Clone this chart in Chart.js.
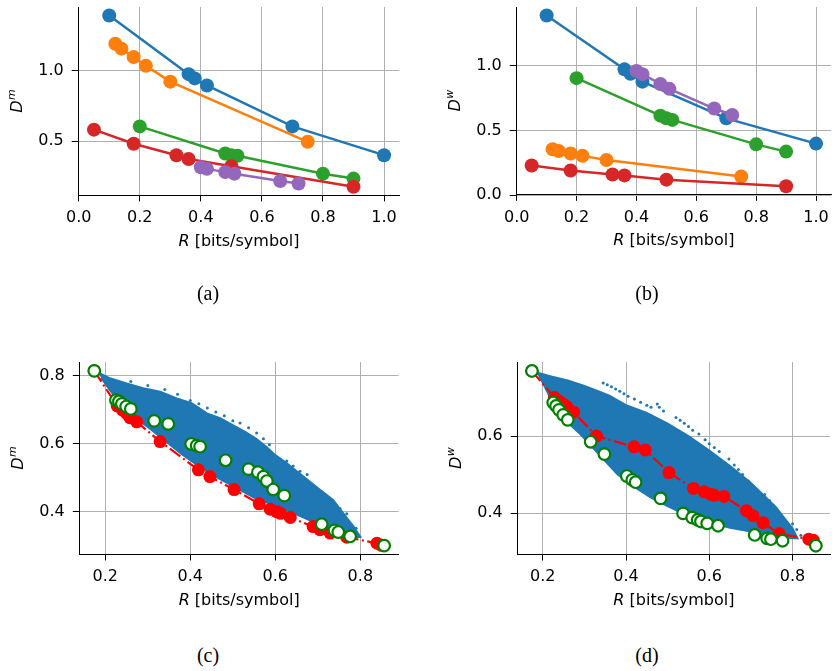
<!DOCTYPE html>
<html>
<head>
<meta charset="utf-8">
<script src="https://cdn.jsdelivr.net/npm/chart.js@4.4.1/dist/chart.umd.min.js"></script>
<style>
  body { margin: 0; background: #fff; width: 838px; height: 671px; position: relative; overflow: hidden; }
  canvas { position: absolute; }
  .cap { position: absolute; font-family: 'Liberation Serif', serif; font-size: 20px; transform: translate(-50%, -50%); white-space: nowrap; }
</style>
</head>
<body>
<canvas id="pa" width="419" height="300" style="left:0px;top:0px"></canvas>
<canvas id="pb" width="419" height="300" style="left:419px;top:0px"></canvas>
<canvas id="pc" width="419" height="300" style="left:0px;top:335px"></canvas>
<canvas id="pd" width="419" height="300" style="left:419px;top:335px"></canvas>
<div class="cap" style="left:208px;top:293px">(a)</div>
<div class="cap" style="left:647px;top:293px">(b)</div>
<div class="cap" style="left:208px;top:655px">(c)</div>
<div class="cap" style="left:647px;top:655px">(d)</div>
<script>
// rates shared by panels (a) and (b)
const blueR = [0.1, 0.36, 0.38, 0.42, 0.7, 1.0];
const orangeR = [0.12, 0.14, 0.18, 0.22, 0.3, 0.75];
const greenR = [0.2, 0.48, 0.5, 0.52, 0.8, 0.9];
const redR = [0.05, 0.18, 0.32, 0.36, 0.5, 0.9];
const purpleR = [0.4, 0.42, 0.48, 0.51, 0.66, 0.72];

// (a) D^m
const aBlue = [1.39, 0.974, 0.944, 0.894, 0.604, 0.40];
const aOrange = [1.19, 1.155, 1.095, 1.033, 0.921, 0.495];
const aGreen = [0.604, 0.412, 0.40, 0.396, 0.269, 0.234];
const aRed = [0.581, 0.481, 0.40, 0.373, 0.322, 0.176];
const aPurple = [0.315, 0.303, 0.28, 0.269, 0.217, 0.199];

// (b) D^w
const bBlue = [1.39, 0.974, 0.94, 0.879, 0.595, 0.40];
const bOrange = [0.356, 0.343, 0.323, 0.305, 0.273, 0.146];
const bGreen = [0.906, 0.616, 0.596, 0.583, 0.394, 0.338];
const bRed = [0.23, 0.192, 0.161, 0.154, 0.121, 0.07];
const bPurple = [0.962, 0.937, 0.861, 0.823, 0.671, 0.621];

// (c)/(d) open green circles
const gR = [0.174, 0.225, 0.232, 0.239, 0.249, 0.26, 0.315, 0.348, 0.402, 0.415, 0.423, 0.483, 0.537, 0.559, 0.572, 0.58, 0.595, 0.621, 0.709, 0.739, 0.748, 0.776, 0.856];
const gCm = [0.815, 0.729, 0.725, 0.718, 0.71, 0.703, 0.668, 0.659, 0.60, 0.595, 0.592, 0.552, 0.526, 0.517, 0.504, 0.491, 0.466, 0.448, 0.364, 0.346, 0.341, 0.328, 0.301];
const gDw = [0.769, 0.687, 0.678, 0.668, 0.655, 0.642, 0.585, 0.553, 0.496, 0.486, 0.48, 0.438, 0.399, 0.388, 0.382, 0.378, 0.373, 0.367, 0.343, 0.334, 0.332, 0.328, 0.315];

// (c)/(d) red front
const rR = [0.174, 0.228, 0.24, 0.25, 0.258, 0.274, 0.329, 0.419, 0.446, 0.503, 0.562, 0.588, 0.603, 0.612, 0.635, 0.689, 0.705, 0.729, 0.768, 0.839, 0.85];
const rCm = [0.815, 0.712, 0.70, 0.69, 0.677, 0.665, 0.607, 0.524, 0.504, 0.466, 0.424, 0.408, 0.401, 0.396, 0.384, 0.357, 0.348, 0.338, 0.326, 0.308, 0.302];
const rDw = [0.769, 0.70, 0.69, 0.682, 0.676, 0.662, 0.60, 0.572, 0.564, 0.505, 0.464, 0.455, 0.449, 0.446, 0.443, 0.406, 0.393, 0.375, 0.346, 0.332, 0.329];

// blue cloud: outline of the dense part, then loose dots around it
const cCoreR = [0.184, 0.211, 0.25, 0.289, 0.329, 0.368, 0.403, 0.439, 0.47, 0.501, 0.53, 0.555, 0.58, 0.60, 0.627, 0.666, 0.705, 0.736, 0.76, 0.784, 0.80,
                0.785, 0.76, 0.70, 0.64, 0.60, 0.55, 0.50, 0.45, 0.42, 0.38, 0.34, 0.30, 0.27, 0.24, 0.21, 0.19];
const cCoreD = [0.81, 0.793, 0.778, 0.764, 0.754, 0.734, 0.72, 0.69, 0.676, 0.655, 0.635, 0.615, 0.59, 0.567, 0.543, 0.504, 0.465, 0.435, 0.396, 0.357, 0.327,
                0.325, 0.338, 0.365, 0.398, 0.418, 0.442, 0.477, 0.51, 0.535, 0.57, 0.61, 0.65, 0.678, 0.712, 0.76, 0.795];
const cDotR = [0.26, 0.30, 0.34, 0.37, 0.40, 0.42, 0.44, 0.46, 0.48, 0.50,
               0.517, 0.537, 0.556, 0.572, 0.586, 0.627, 0.642, 0.658, 0.675,
               0.689, 0.701, 0.713, 0.725, 0.736, 0.752, 0.768, 0.78, 0.79];
const cDotD = [0.784, 0.772, 0.76, 0.746, 0.728, 0.718, 0.706, 0.694, 0.683, 0.668,
               0.662, 0.648, 0.632, 0.615, 0.598, 0.55, 0.535, 0.52, 0.51,
               0.475, 0.462, 0.45, 0.438, 0.425, 0.41, 0.395, 0.362, 0.352];

const dCoreR = [0.185, 0.22, 0.26, 0.30, 0.33, 0.36, 0.40, 0.45, 0.50, 0.55, 0.60, 0.65, 0.70, 0.76, 0.80, 0.812,
                0.76, 0.70, 0.65, 0.60, 0.55, 0.50, 0.46, 0.42, 0.38, 0.35, 0.32, 0.29, 0.26, 0.235, 0.215];
const dCoreD = [0.765, 0.755, 0.744, 0.73, 0.718, 0.705, 0.68, 0.66, 0.632, 0.60, 0.562, 0.522, 0.478, 0.415, 0.36, 0.334,
                0.338, 0.352, 0.362, 0.375, 0.392, 0.418, 0.44, 0.468, 0.50, 0.535, 0.57, 0.605, 0.635, 0.665, 0.70];
const dDotR = [0.345, 0.355, 0.365, 0.375, 0.385, 0.395, 0.405, 0.42, 0.435, 0.45, 0.46,
               0.475, 0.48, 0.49,
               0.52, 0.53, 0.54, 0.55, 0.56,
               0.575, 0.59, 0.60, 0.612, 0.624,
               0.647, 0.66, 0.67, 0.68, 0.694,
               0.733, 0.745, 0.755, 0.765, 0.775, 0.785, 0.796,
               0.80, 0.81, 0.82];
const dDotD = [0.738, 0.733, 0.728, 0.722, 0.716, 0.71, 0.703, 0.696, 0.688, 0.68, 0.675,
               0.683, 0.675, 0.665,
               0.648, 0.641, 0.633, 0.625, 0.615,
               0.605, 0.59, 0.58, 0.57, 0.56,
               0.54, 0.525, 0.513, 0.50, 0.483,
               0.448, 0.432, 0.418, 0.403, 0.388, 0.374, 0.36,
               0.372, 0.357, 0.342];

const xTicksTop = [0.0, 0.2, 0.4, 0.6, 0.8, 1.0];
const xTicksBottom = [0.2, 0.4, 0.6, 0.8];

const C0 = '#1f77b4', C1 = '#ff7f0e', C2 = '#2ca02c', C3 = '#d62728', C4 = '#9467bd';
const FONT = '"DejaVu Sans"';

function pts(xs, ys) {
    return xs.map((x, i) => ({ x: x, y: ys[i] }));
}

// axis titles with italic symbols (R, D and its superscript)
const axisTitles = {
    id: 'axisTitles',
    afterDraw(chart, args, opts) {
        const ctx = chart.ctx, a = chart.chartArea;
        const it = 'italic 16px ' + FONT, rg = '16px ' + FONT, sm = 'italic 11px ' + FONT;
        ctx.save();
        ctx.fillStyle = '#000';
        ctx.textBaseline = 'middle';
        ctx.textAlign = 'left';
        ctx.font = it;
        const w1 = ctx.measureText('R').width;
        ctx.font = rg;
        const w2 = ctx.measureText(' [bits/symbol]').width;
        const x0 = (a.left + a.right) / 2 - (w1 + w2) / 2, y0 = a.bottom + 46;
        ctx.font = it; ctx.fillText('R', x0, y0);
        ctx.font = rg; ctx.fillText(' [bits/symbol]', x0 + w1, y0);

        ctx.translate(a.left - 61, (a.top + a.bottom) / 2);
        ctx.rotate(-Math.PI / 2);
        ctx.font = it;
        const wd = ctx.measureText('D').width;
        ctx.font = sm;
        const ws = ctx.measureText(opts.sup).width;
        const s = -(wd + ws) / 2;
        ctx.font = it; ctx.fillText('D', s, 0);
        ctx.font = sm; ctx.fillText(opts.sup, s + wd + 0.5, -6);
        ctx.restore();
    }
};

function lineSet(xs, ys, color, order) {
    return { data: pts(xs, ys), showLine: true, borderColor: color, backgroundColor: color, borderWidth: 2.5,
             pointRadius: 7, pointBorderWidth: 0, pointBackgroundColor: color, order: order, clip: false };
}

function cloudSets(coreR, coreD, dotR, dotD, redD, greenD) {
    return [
        { data: pts(coreR, coreD), showLine: true, fill: 'shape', backgroundColor: C0, borderColor: C0, borderWidth: 2, pointRadius: 0, order: 3 },
        { data: pts(dotR, dotD), showLine: false, pointRadius: 1.5, pointBorderWidth: 0, pointBackgroundColor: C0, order: 2, clip: false },
        { data: pts(rR, redD), showLine: true, borderColor: '#ff0000', borderWidth: 2.2, borderDash: [13, 3.5, 2, 3.5],
          pointRadius: 6.5, pointBorderWidth: 0, pointBackgroundColor: '#ff0000', order: 1, clip: false },
        { data: pts(gR, greenD), showLine: false, pointRadius: 5.8, pointBackgroundColor: '#ffffff',
          pointBorderColor: '#008000', pointBorderWidth: 2.2, order: 0, clip: false }
    ];
}

// box = plot area in page pixels, org = canvas origin
function makePanel(id, org, box, xr, yr, xt, yt, sup, datasets) {
    const cv = document.getElementById(id);
    const ctx = cv.getContext('2d');
    const tickFont = { family: FONT, size: 16 };
    return new Chart(ctx, {
        type: 'scatter',
        data: { datasets: datasets },
        plugins: [axisTitles],
        options: {
            responsive: false,
            animation: false,
            events: [],
            layout: { padding: { left: 0, bottom: 0, top: box.t - org[1], right: org[0] + cv.width - box.r } },
            plugins: { legend: { display: false }, tooltip: { enabled: false }, axisTitles: { sup: sup } },
            scales: {
                x: {
                    type: 'linear', min: xr[0], max: xr[1],
                    afterBuildTicks: s => { s.ticks = xt.map(v => ({ value: v })); },
                    afterFit: s => { s.height = org[1] + cv.height - box.b; s.paddingLeft = 0; s.paddingRight = 0; },
                    ticks: { callback: v => v.toFixed(1), color: '#000', font: tickFont, padding: 7, maxRotation: 0, autoSkip: false },
                    grid: { color: '#b0b0b0', lineWidth: 1, tickLength: 6, tickColor: '#000' },
                    border: { color: '#000', width: 1 }
                },
                y: {
                    type: 'linear', min: yr[0], max: yr[1],
                    afterBuildTicks: s => { s.ticks = yt.map(v => ({ value: v })); },
                    afterFit: s => { s.width = box.l - org[0]; s.paddingTop = 0; s.paddingBottom = 0; },
                    ticks: { callback: v => v.toFixed(1), color: '#000', font: tickFont, padding: 8, autoSkip: false },
                    grid: { color: '#b0b0b0', lineWidth: 1, tickLength: 7, tickColor: '#000' },
                    border: { color: '#000', width: 1 }
                }
            }
        }
    });
}

makePanel('pa', [0, 0], { l: 78.7, r: 399.3, t: 3.2, b: 195.4 }, [0, 1.05], [0.115, 1.45], xTicksTop, [0.5, 1.0], 'm', [
    lineSet(blueR, aBlue, C0, 4), lineSet(orangeR, aOrange, C1, 3), lineSet(greenR, aGreen, C2, 2),
    lineSet(redR, aRed, C3, 1), lineSet(purpleR, aPurple, C4, 0)
]);
makePanel('pb', [419, 0], { l: 516.7, r: 838, t: 3.1, b: 194.8 }, [0, 1.05], [0.004, 1.456], xTicksTop, [0.0, 0.5, 1.0], 'w', [
    lineSet(blueR, bBlue, C0, 4), lineSet(orangeR, bOrange, C1, 3), lineSet(greenR, bGreen, C2, 2),
    lineSet(redR, bRed, C3, 1), lineSet(purpleR, bPurple, C4, 0)
]);
makePanel('pc', [0, 335], { l: 79.8, r: 398.6, t: 362, b: 554.5 }, [0.14, 0.89], [0.275, 0.841], xTicksBottom, [0.4, 0.6, 0.8], 'm',
    cloudSets(cCoreR, cCoreD, cDotR, cDotD, rCm, gCm));
makePanel('pd', [419, 335], { l: 517.8, r: 836.6, t: 362.1, b: 554.6 }, [0.14, 0.89], [0.292, 0.792], xTicksBottom, [0.4, 0.6], 'w',
    cloudSets(dCoreR, dCoreD, dDotR, dDotD, rDw, gDw));
</script>
</body>
</html>
